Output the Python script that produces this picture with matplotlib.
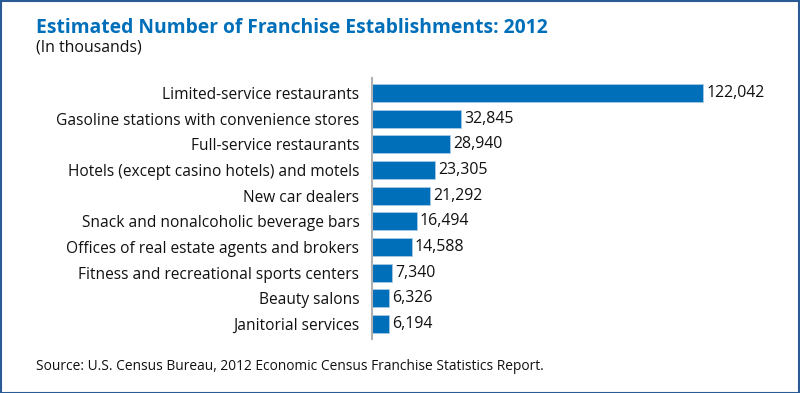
import matplotlib.pyplot as plt
from matplotlib.patches import Rectangle

categories = [
    'Limited-service restaurants',
    'Gasoline stations with convenience stores',
    'Full-service restaurants',
    'Hotels (except casino hotels) and motels',
    'New car dealers',
    'Snack and nonalcoholic beverage bars',
    'Offices of real estate agents and brokers',
    'Fitness and recreational sports centers',
    'Beauty salons',
    'Janitorial services',
]
values = [122042, 32845, 28940, 23305, 21292, 16494, 14588, 7340, 6326, 6194]

W, H = 800, 393
blue = '#006fba'
plt.rcParams['font.family'] = ['Open Sans', 'DejaVu Sans']

fig = plt.figure(figsize=(W / 100, H / 100), dpi=100)

# frame around the whole graphic
fig.patches.append(Rectangle((0.5 / W, 0.5 / H), 1 - 1.5 / W, 1 - 1.5 / H,
                             transform=fig.transFigure, fill=False,
                             edgecolor='#2b5b97', linewidth=1.5))

# axes placed in pixel terms: left spine at x=372, bar rows centred 93..324
left, right = 372, 780
row = (324 - 93) / 9
top, bottom = 93 - 0.6 * row, 324 + 0.6 * row
ax = fig.add_axes([left / W, 1 - bottom / H, (right - left) / W, (bottom - top) / H])

ypos = list(range(len(values)))
ax.barh(ypos, values, height=0.7, color=blue, edgecolor='#a9c9e6', linewidth=0.6)
ax.set_ylim(len(values) - 0.4, -0.6)
ax.set_xlim(0, values[0] * (right - left) / (703 - left))

for y, v in zip(ypos, values):
    ax.text(v + 1200, y, f'{v:,}', va='center', ha='left', fontsize=11.4, color='#111111')

ax.set_yticks(ypos)
ax.set_yticklabels(categories, fontsize=11.2, color='#111111')
ax.tick_params(axis='y', length=0, pad=9)
ax.set_xticks([])
for s in ['top', 'right', 'bottom']:
    ax.spines[s].set_visible(False)
ax.spines['left'].set_color('#b0b0b0')
ax.spines['left'].set_linewidth(1.5)

fig.text(36 / W, 1 - 28 / H, 'Estimated Number of Franchise Establishments: 2012',
         fontsize=13.9, fontweight='bold', color=blue, va='center', ha='left')
fig.text(36 / W, 1 - 47 / H, '(In thousands)', fontsize=11.4, color='#111111',
         va='center', ha='left')
fig.text(36 / W, 1 - 367 / H,
         'Source: U.S. Census Bureau, 2012 Economic Census Franchise Statistics Report.',
         fontsize=9.9, color='#111111', va='center', ha='left')

fig.savefig('out.png', dpi=100)
